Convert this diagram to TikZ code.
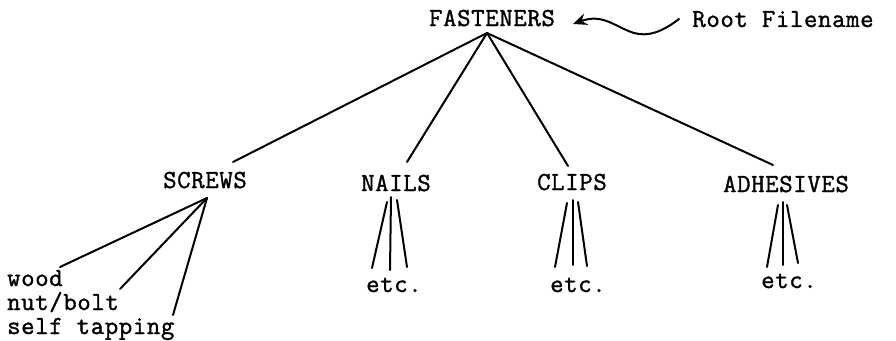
\documentclass[tikz,border=0pt]{standalone}
\usepackage{fontspec}
\newfontfamily\twfont{Latin Modern Mono}[FakeBold=1.3,LetterSpace=2.5]
\usetikzlibrary{arrows.meta}
\begin{document}
\begin{tikzpicture}[x=1pt,y=-1pt,
  lbl/.style={inner sep=0pt,font=\twfont\fontsize{26}{26}\selectfont,anchor=base},
  lbll/.style={lbl,anchor=base west},
  edge/.style={line width=2pt,line cap=round}]
\useasboundingbox (0,0) rectangle (896,340);
% labels
\node[lbl] (fast) at (492,26) {FASTENERS};
\node[lbl] (root) at (783,27) {Root Filename};
\node[lbl] (screws) at (205,188) {SCREWS};
\node[lbl] (nails) at (396,191) {NAILS};
\node[lbl] (clips) at (572,190) {CLIPS};
\node[lbl] (adh) at (786,192) {ADHESIVES};
\node[lbl] (etc1) at (394,292) {etc.};
\node[lbl] (etc2) at (578,292) {etc.};
\node[lbl] (etc3) at (789,288) {etc.};
\node[lbll] (wood) at (7,286) {wood};
\node[lbll] (nut) at (7,310) {nut/bolt};
\node[lbll] (self) at (7,334) {self tapping};
% connection points
\coordinate (fa) at (487,33);
\coordinate (sc) at (233,162);
\coordinate (na) at (407,162);
\coordinate (cl) at (568,166);
\coordinate (ad) at (773,165);
\coordinate (sa) at (207,198);
\coordinate (w) at (60,267);
\coordinate (n) at (120,289);
\coordinate (s) at (173,315);
% root arrow
\coordinate (ra) at (679,19);
\coordinate (rb) at (573,24);
\draw[edge,-{Stealth[length=14pt,width=12pt,inset=5pt]}] (ra)
  .. controls (662,32) and (648,37) .. (634,33)
  .. controls (615,27) and (603,13) .. (rb);
% main edges
\draw[edge] (fa) -- (sc);
\draw[edge] (fa) -- (na);
\draw[edge] (fa) -- (cl);
\draw[edge] (fa) -- (ad);
% screws
\draw[edge] (sa) -- (w);
\draw[edge] (sa) -- (n);
\draw[edge] (sa) -- (s);
% nails
\coordinate (n1a) at (387,202); \coordinate (n1b) at (372,268);
\coordinate (n2a) at (391,197); \coordinate (n2b) at (390,270);
\coordinate (n3a) at (397,200); \coordinate (n3b) at (407,267);
\draw[edge] (n1a) -- (n1b);
\draw[edge] (n2a) -- (n2b);
\draw[edge] (n3a) -- (n3b);
% clips
\coordinate (c1a) at (567,203); \coordinate (c1b) at (555,267);
\coordinate (c2a) at (573,200); \coordinate (c2b) at (573,265);
\coordinate (c3a) at (578,202); \coordinate (c3b) at (587,266);
\draw[edge] (c1a) -- (c1b);
\draw[edge] (c2a) -- (c2b);
\draw[edge] (c3a) -- (c3b);
% adhesives
\coordinate (a1a) at (778,205); \coordinate (a1b) at (767,267);
\coordinate (a2a) at (783,202); \coordinate (a2b) at (783,265);
\coordinate (a3a) at (787,205); \coordinate (a3b) at (798,263);
\draw[edge] (a1a) -- (a1b);
\draw[edge] (a2a) -- (a2b);
\draw[edge] (a3a) -- (a3b);
\end{tikzpicture}
\end{document}
